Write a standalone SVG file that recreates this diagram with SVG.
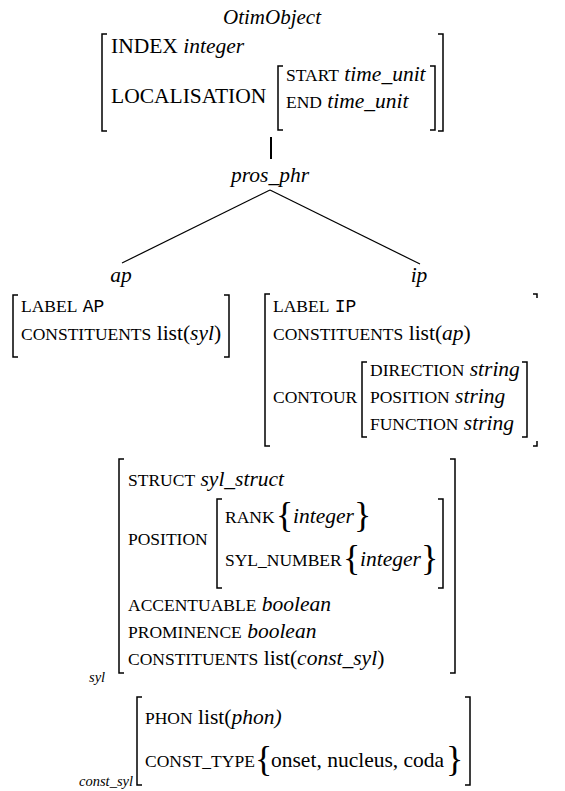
<svg xmlns="http://www.w3.org/2000/svg" width="565" height="791" viewBox="0 0 565 791">
<style>
text{font-family:"Liberation Serif","Times New Roman",serif;font-size:21.5px;fill:#000}
.i{font-style:italic}
.sc{font-size:17.5px}
.tt{font-family:"Liberation Mono","Courier New",monospace;font-size:18px}
.lbl{font-style:italic;font-size:14.5px}
.brace{font-size:36px}
.br{fill:none;stroke:#000;stroke-width:1.5}
.edge{fill:none;stroke:#000;stroke-width:1.2}
</style>
<rect width="565" height="791" fill="#fff"/>

<g id="otimobject">
  <text x="272" y="24" text-anchor="middle" class="i" style="font-size:21px">OtimObject</text>
  <path class="br" d="M107 34 H102 V131 H107"/>
  <path class="br" d="M438 34 H443 V131 H438"/>
  <text x="111" y="53">INDEX <tspan class="i">integer</tspan></text>
  <text x="111" y="103">LOCALISATION</text>
  <path class="br" d="M283 66 H278 V130 H283"/>
  <path class="br" d="M430 66 H435 V130 H430"/>
  <text x="286" y="81"><tspan class="sc">START</tspan> <tspan class="i">time_unit</tspan></text>
  <text x="286" y="108"><tspan class="sc">END</tspan> <tspan class="i">time_unit</tspan></text>
</g>

<g id="connectors">
  <line x1="271" y1="137" x2="271" y2="159" stroke="#000" stroke-width="2"/>
  <line class="edge" x1="270" y1="190" x2="122" y2="263"/>
  <line class="edge" x1="270" y1="190" x2="420" y2="264"/>
</g>

<g id="pros_phr">
  <text x="270" y="182" text-anchor="middle" class="i">pros_phr</text>
</g>

<g id="ap">
  <text x="121" y="282" text-anchor="middle" class="i">ap</text>
  <path class="br" d="M18 295 H13 V357 H18"/>
  <path class="br" d="M224 295 H229 V357 H224"/>
  <text x="21" y="312"><tspan class="sc">LABEL</tspan> <tspan class="tt">AP</tspan></text>
  <text x="21" y="340"><tspan class="sc">CONSTITUENTS</tspan> list(<tspan class="i">syl</tspan>)</text>
</g>

<g id="ip">
  <text x="419" y="282" text-anchor="middle" class="i">ip</text>
  <path class="br" d="M270 294 H265 V446 H270"/>
  <path class="br" d="M533 294 H537 V298"/>
  <path class="br" d="M537 441 V446 H533"/>
  <text x="273" y="312"><tspan class="sc">LABEL</tspan> <tspan class="tt">IP</tspan></text>
  <text x="273" y="340"><tspan class="sc">CONSTITUENTS</tspan> list(<tspan class="i">ap</tspan>)</text>
  <text x="273" y="403" class="sc">CONTOUR</text>
  <path class="br" d="M367 362 H362 V437 H367"/>
  <path class="br" d="M522 362 H527 V437 H522"/>
  <text x="370" y="376"><tspan class="sc">DIRECTION</tspan> <tspan class="i">string</tspan></text>
  <text x="370" y="403"><tspan class="sc">POSITION</tspan> <tspan class="i">string</tspan></text>
  <text x="370" y="430"><tspan class="sc">FUNCTION</tspan> <tspan class="i">string</tspan></text>
</g>

<g id="syl">
  <path class="br" d="M124 459 H119 V673 H124"/>
  <path class="br" d="M450 459 H455 V673 H450"/>
  <text x="128" y="486"><tspan class="sc">STRUCT</tspan> <tspan class="i">syl_struct</tspan></text>
  <text x="128" y="545" class="sc">POSITION</text>
  <path class="br" d="M222 499 H217 V588 H222"/>
  <path class="br" d="M438 499 H443 V588 H438"/>
  <text x="225" y="523" class="sc">RANK</text>
  <text x="276" y="527" class="brace">{</text>
  <text x="293" y="523" class="i">integer</text>
  <text x="354" y="527" class="brace">}</text>
  <text x="225" y="566" class="sc">SYL_NUMBER</text>
  <text x="343" y="570" class="brace">{</text>
  <text x="360" y="566" class="i">integer</text>
  <text x="421" y="570" class="brace">}</text>
  <text x="128" y="611"><tspan class="sc">ACCENTUABLE</tspan> <tspan class="i">boolean</tspan></text>
  <text x="128" y="638"><tspan class="sc">PROMINENCE</tspan> <tspan class="i">boolean</tspan></text>
  <text x="128" y="665"><tspan class="sc">CONSTITUENTS</tspan> list(<tspan class="i">const_syl</tspan>)</text>
  <text x="89" y="682" class="lbl">syl</text>
</g>

<g id="const_syl">
  <path class="br" d="M142 697 H137 V785 H142"/>
  <path class="br" d="M465 697 H470 V785 H465"/>
  <text x="145" y="724"><tspan class="sc">PHON</tspan> list(<tspan class="i">phon)</tspan></text>
  <text x="145" y="767" class="sc">CONST_TYPE</text>
  <text x="255" y="771" class="brace">{</text>
  <text x="271" y="767">onset, nucleus, coda</text>
  <text x="446" y="771" class="brace">}</text>
  <text x="133" y="786" text-anchor="end" class="lbl">const_syl</text>
</g>
</svg>
